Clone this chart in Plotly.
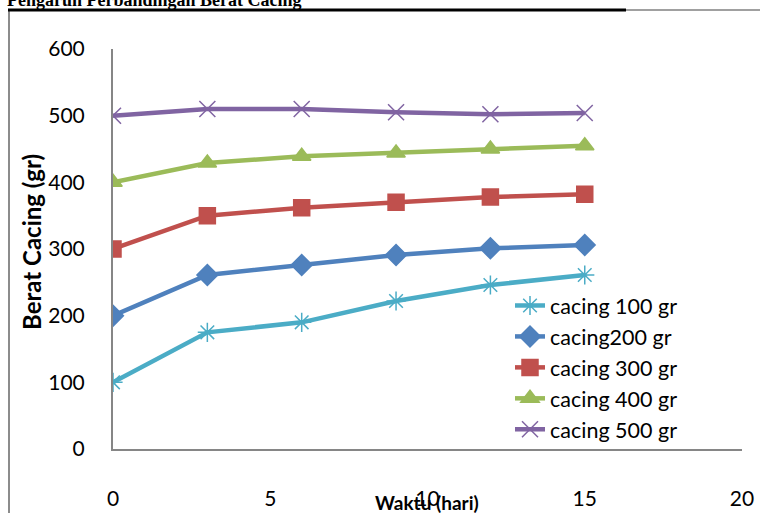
import plotly.graph_objects as go

days = [0, 3, 6, 9, 12, 15]
cacing100 = [100, 175, 190, 222, 246, 261]
cacing200 = [200, 261, 276, 291, 301, 306]
cacing300 = [300, 350, 362, 370, 378, 382]
cacing400 = [400, 429, 439, 444, 450, 455]
cacing500 = [500, 510, 510, 505, 502, 504]

series_names = ["cacing 100 gr", "cacing200 gr", "cacing 300 gr", "cacing 400 gr", "cacing 500 gr"]
series_vals = [cacing100, cacing200, cacing300, cacing400, cacing500]
colors = ["#4BACC6", "#4F81BD", "#C0504D", "#9BBB59", "#8064A2"]
symbols = ["asterisk-open", "diamond", "square", "triangle-up", "x-thin-open"]
sizes = [16, 16, 16, 16, 16]

W, H = 760, 513
L, R, T, B = 113, 18, 49, 64
pw, ph = W - L - R, H - T - B

def px(x):
    return (x - L) / pw

def py(y):
    return (H - B - y) / ph

fig = go.Figure()
for name, vals, c, s, sz in zip(series_names, series_vals, colors, symbols, sizes):
    fig.add_trace(go.Scatter(
        x=days, y=vals, name=name, mode="lines+markers",
        line=dict(color=c, width=4.5),
        marker=dict(symbol=s, size=sz, color=c, line=dict(color=c, width=1.5)),
    ))

font = "Lato, Calibri, Carlito, sans-serif"
fig.update_layout(
    width=W, height=H,
    margin=dict(l=L, r=R, t=T, b=B, autoexpand=False),
    paper_bgcolor="white", plot_bgcolor="white",
    font=dict(family=font, size=21, color="black"),
    showlegend=True,
    legend=dict(x=px(510), y=py(285), xanchor="left", yanchor="top",
                bgcolor="rgba(0,0,0,0)", font=dict(size=21.5), tracegroupgap=0),
    xaxis=dict(range=[0, 20], tickvals=[0, 5, 10, 15, 20], showgrid=False, zeroline=False,
               showline=True, linecolor="#868686", linewidth=2, ticks="", automargin=False,
               ticklabelstandoff=30, tickfont=dict(size=21)),
    yaxis=dict(range=[0, 600], tickvals=[0, 100, 200, 300, 400, 500, 600], showgrid=False,
               zeroline=False, showline=True, linecolor="#868686", linewidth=2, ticks="",
               automargin=False, ticklabelstandoff=22, tickfont=dict(size=21)),
)

shapes = [
    dict(type="line", xref="paper", yref="paper", x0=px(9), x1=px(9), y0=py(10), y1=py(520),
         line=dict(color="#8c8c8c", width=2)),
    dict(type="line", xref="paper", yref="paper", x0=px(8), x1=px(626), y0=py(10), y1=py(10),
         line=dict(color="black", width=3)),
    dict(type="line", xref="paper", yref="paper", x0=px(626), x1=px(765), y0=py(10), y1=py(10),
         line=dict(color="#a0a0a0", width=2)),
]
fig.update_layout(shapes=shapes)

fig.add_annotation(text="<b>Pengaruh Perbandingan Berat Cacing</b>", xref="paper", yref="paper",
                   x=px(5), y=py(12), xanchor="left", yanchor="bottom", showarrow=False,
                   font=dict(family="Liberation Serif, Times New Roman, serif", size=18, color="black"))
fig.add_annotation(text="<b>Berat Cacing (gr)</b>", xref="paper", yref="paper",
                   x=px(31), y=py(242), xanchor="center", yanchor="middle", textangle=-90,
                   showarrow=False, font=dict(family=font, size=24, color="black"))
fig.add_annotation(text="<b>Waktu (hari)</b>", xref="paper", yref="paper",
                   x=px(427), y=py(502), xanchor="center", yanchor="middle",
                   showarrow=False, font=dict(family=font, size=19, color="black"))

fig.write_html("out.html", config={"displayModeBar": False},
               post_script="document.body.style.margin='0';document.body.style.padding='0';")
